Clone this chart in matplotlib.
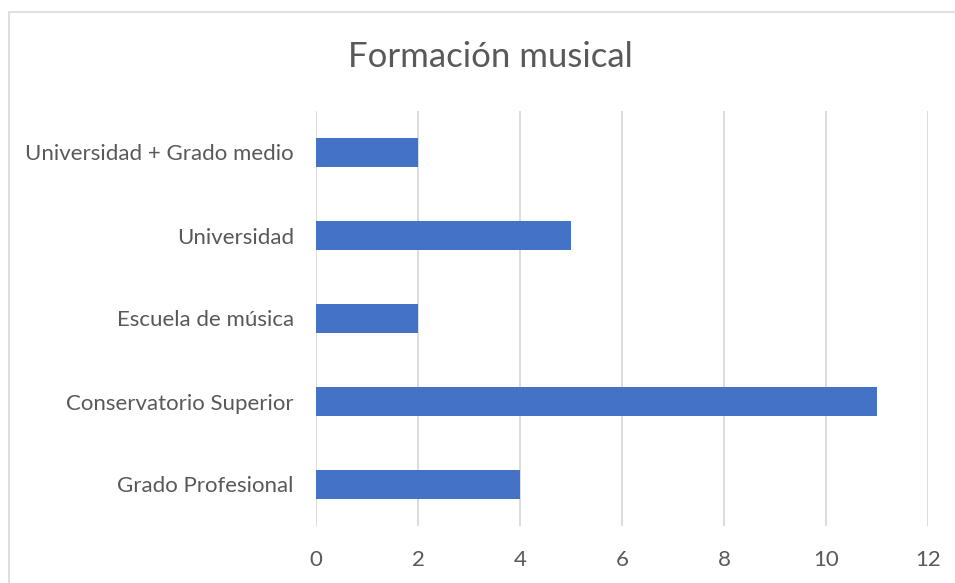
import matplotlib.pyplot as plt
from matplotlib.patches import Rectangle

categories = ["Grado Profesional", "Conservatorio Superior", "Escuela de música",
              "Universidad", "Universidad + Grado medio"]
values = [4, 11, 2, 5, 2]
x_ticks = [0, 2, 4, 6, 8, 10, 12]

plt.rcParams['font.family'] = ['Lato', 'DejaVu Sans']
text_col = "#595959"

fig = plt.figure(figsize=(9.55, 5.83), dpi=100)
fig.patches.append(Rectangle((9 / 955, -0.01), 1.0, 1 - 12 / 583 + 0.01,
                             transform=fig.transFigure, fill=False,
                             edgecolor="#D9D9D9", linewidth=1.2))

ax = fig.add_axes([316 / 955, 57 / 583, 612 / 955, 415 / 583])
ax.barh(range(len(categories)), values, height=0.36, color="#4472C4", zorder=3)

ax.set_xlim(0, 12)
ax.set_ylim(-0.5, len(categories) - 0.5)
ax.set_xticks(x_ticks)
ax.set_xticklabels([str(t) for t in x_ticks])
ax.set_yticks(range(len(categories)))
ax.set_yticklabels(categories)
ax.tick_params(axis="both", length=0, labelsize=16, colors=text_col)
ax.tick_params(axis="x", pad=17)
ax.tick_params(axis="y", pad=16)
ax.grid(axis="x", color="#D9D9D9", linewidth=1.3, zorder=0)
for s in ax.spines.values():
    s.set_visible(False)

fig.text(490 / 955, 1 - 57 / 583, "Formación musical", ha="center", va="center",
         fontsize=25, color=text_col)

fig.savefig("out.png", dpi=100)
